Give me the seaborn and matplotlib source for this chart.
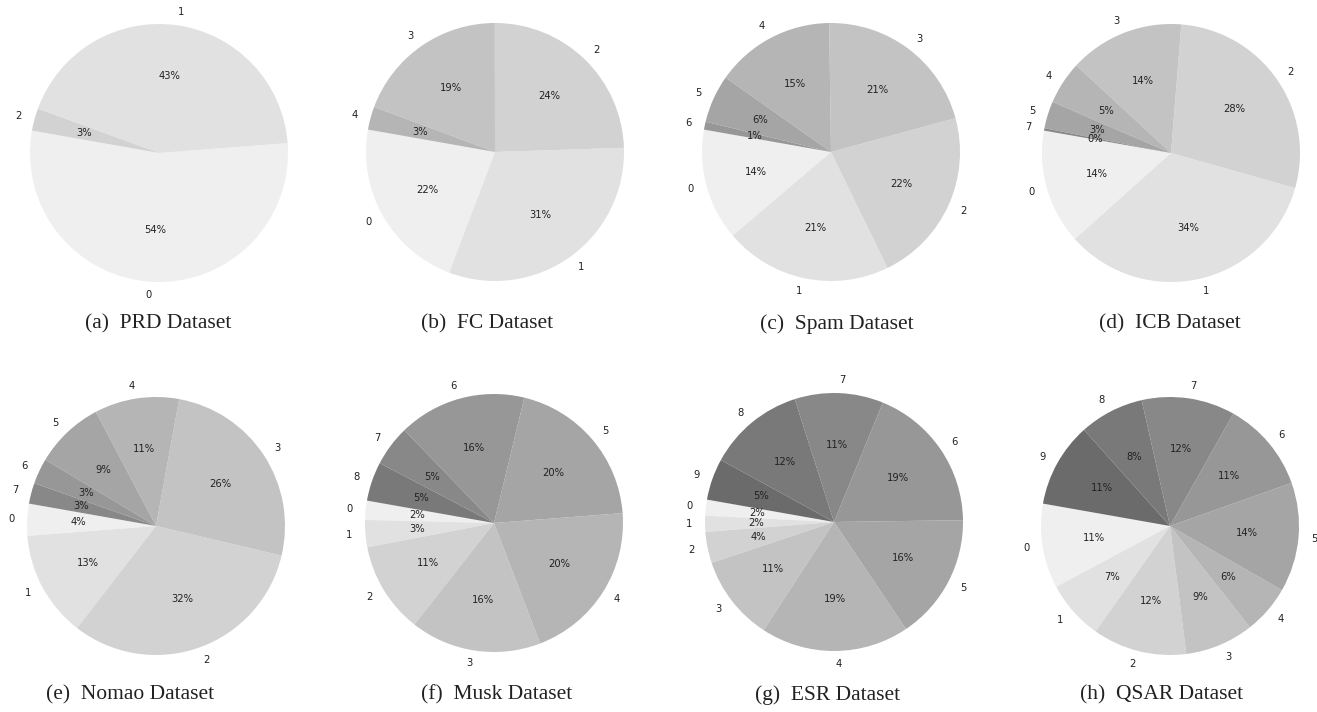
import matplotlib
matplotlib.use("Agg")
import matplotlib.pyplot as plt
import seaborn as sns

# class shares (%) per dataset
prd = [54.0, 43.2, 2.8]
fc = [22.0, 31.3, 24.5, 19.3, 2.9]
spam = [14, 21, 22, 21, 15, 6, 1]
icb = [14.4, 34.0, 28.1, 14.4, 5.4, 3.4, 0.3]
nomao = [4.0, 13.3, 31.8, 25.8, 10.6, 8.7, 3.2, 2.6]
musk = [2.4, 3.4, 11.4, 16.4, 20.4, 20.0, 16.0, 5.1, 4.9]
esr = [2.0, 2.0, 3.9, 10.7, 18.6, 15.8, 18.6, 11.1, 12.1, 5.2]
qsar = [10.6, 7.4, 11.8, 8.6, 6.1, 13.7, 11.4, 11.7, 8.1, 10.6]

icb_classes = [0, 1, 2, 3, 4, 5, 7]

captions = ["(a)  PRD Dataset", "(b)  FC Dataset", "(c)  Spam Dataset", "(d)  ICB Dataset",
            "(e)  Nomao Dataset", "(f)  Musk Dataset", "(g)  ESR Dataset", "(h)  QSAR Dataset"]

sns.set_theme(style="white")
plt.rcParams['font.family'] = ['DejaVu Sans']

W, H = 1317, 712
fig = plt.figure(figsize=(W / 100, H / 100), dpi=100)

greys = sns.blend_palette(["#efefef", "#6b6b6b"], 10)

# pie centres / radius in pixels, caption positions
centres = [(159, 153), (495, 152), (831, 152), (1171, 153),
           (156, 526), (494, 523), (834, 522), (1170, 526)]
cap_pos = [(158, 324), (487, 324), (837, 324), (1170, 324),
           (130, 695), (497, 695), (828, 695), (1162, 695)]
radius = 129

datasets = [prd, fc, spam, icb, nomao, musk, esr, qsar]

for i, vals in enumerate(datasets):
    if i == 3:
        classes = icb_classes
    else:
        classes = list(range(len(vals)))
    cx, cy = centres[i]
    half = 1.25 * radius
    ax = fig.add_axes([(cx - half) / W, 1 - (cy + half) / H, 2 * half / W, 2 * half / H])
    ax.pie(vals, labels=[str(c) for c in classes], colors=[greys[c] for c in classes],
           autopct='%1.0f%%', startangle=170, wedgeprops={'linewidth': 0},
           textprops={'fontsize': 7.2, 'color': '#222222'})
    ax.set_xlim(-1.25, 1.25)
    ax.set_ylim(-1.25, 1.25)
    ax.set_aspect('equal')
    ax.axis('off')
    tx, ty = cap_pos[i]
    fig.text(tx / W, 1 - ty / H, captions[i], ha='center', va='center',
             fontsize=15.5, family='Liberation Serif', color='#222222')

fig.savefig("out.png", dpi=100, facecolor='white')
